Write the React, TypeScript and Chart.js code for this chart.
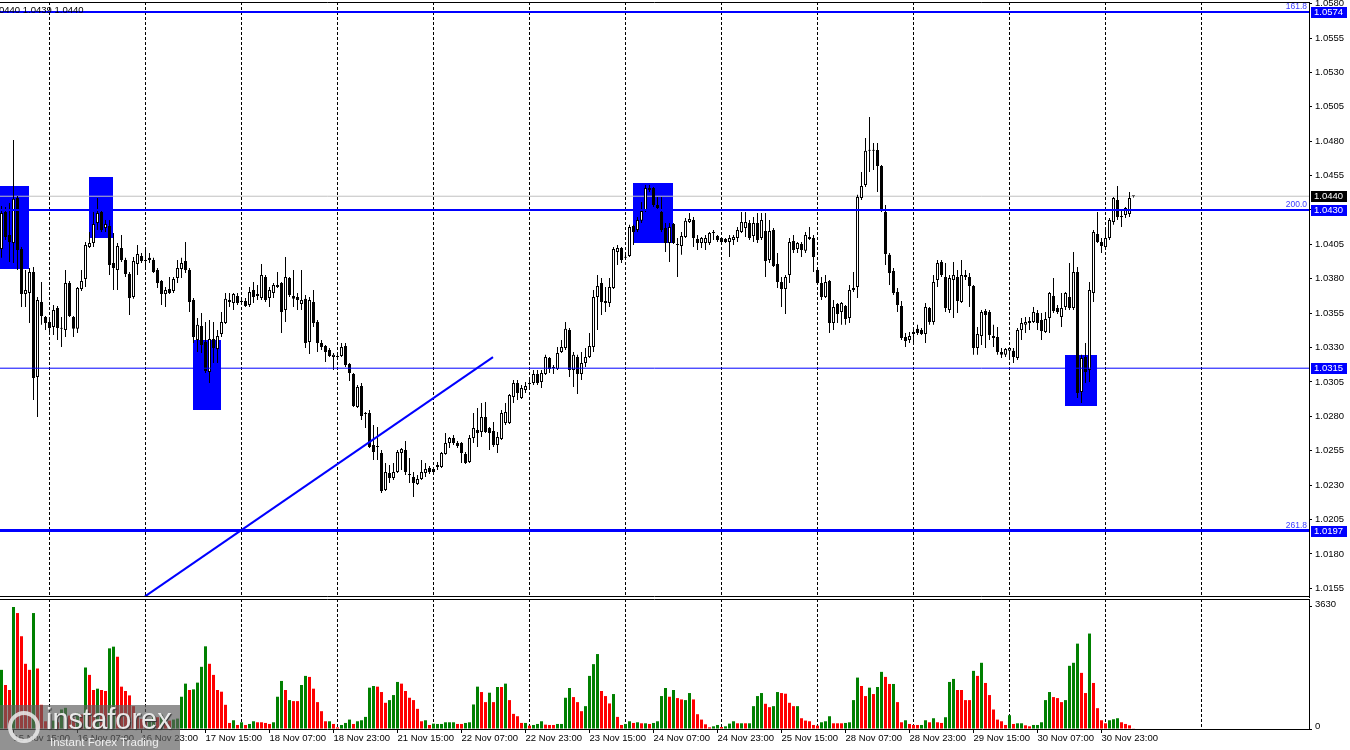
import React, { useEffect, useRef } from "react";
import { Chart, registerables } from "chart.js";

Chart.register(...registerables);

// ---------------- DATA ----------------
const opens = [
1.04017,1.04285,1.04119,1.04060,1.04388,1.04017,1.03690,1.03697,1.03849,1.03086,
1.03631,1.03522,1.03486,1.03450,1.03588,1.03443,1.03428,1.03769,1.03522,1.03436,
1.03726,1.03799,1.04031,1.04060,1.04206,1.04285,1.04170,1.04184,1.03915,1.03864,
1.04024,1.03937,1.03835,1.03668,1.03908,1.03966,1.03930,1.03952,1.03937,1.03864,
1.03784,1.03690,1.03726,1.03712,1.03806,1.03872,1.03930,1.03864,1.03646,1.03355,
1.03457,1.03340,1.03122,1.03363,1.03290,1.03399,1.03479,1.03631,1.03624,1.03675,
1.03631,1.03639,1.03610,1.03719,1.03690,1.03661,1.03813,1.03661,1.03697,1.03740,
1.03769,1.03573,1.03806,1.03675,1.03668,1.03617,1.03654,1.03340,1.03631,1.03486,
1.03333,1.03311,1.03283,1.03232,1.03232,1.03239,1.03311,1.03181,1.03108,1.02868,
1.03020,1.02824,1.02824,1.02592,1.02577,1.02534,1.02265,1.02388,1.02352,1.02395,
1.02534,1.02556,1.02381,1.02359,1.02308,1.02345,1.02388,1.02425,1.02418,1.02432,
1.02432,1.02527,1.02606,1.02643,1.02606,1.02606,1.02527,1.02468,1.02643,1.02701,
1.02686,1.02795,1.02716,1.02694,1.02592,1.02636,1.02752,1.02752,1.02941,1.03042,
1.02934,1.02992,1.03035,1.03042,1.03108,1.03049,1.03108,1.03225,1.03159,1.03145,
1.03268,1.03297,1.03428,1.03137,1.03232,1.03108,1.03188,1.03232,1.03304,1.03668,
1.03769,1.03624,1.03624,1.03733,1.03995,1.04024,1.03952,1.03966,1.04184,1.04155,
1.04221,1.04293,1.04446,1.04460,1.04337,1.04285,1.04170,1.04060,1.04199,1.04053,
1.04038,1.04104,1.04213,1.04228,1.04090,1.04060,1.04060,1.04060,1.04133,1.04111,
1.04097,1.04090,1.04067,1.04082,1.04097,1.04140,1.04170,1.04206,1.04111,1.04206,
1.04097,1.04148,1.03937,1.04155,1.03908,1.03776,1.03726,1.03828,1.04075,1.04017,
1.04053,1.04003,1.04104,1.04097,1.03864,1.03769,1.03668,1.03784,1.03479,1.03617,
1.03558,1.03602,1.03515,1.03733,1.03740,1.04388,1.04482,1.04730,1.04730,1.04737,
1.04620,1.04285,1.03974,1.03857,1.03704,1.03602,1.03377,1.03355,1.03399,1.03436,
1.03428,1.03399,1.03588,1.03486,1.03791,1.03922,1.03813,1.03573,1.03791,1.03813,
1.03631,1.03813,1.03813,1.03747,1.03297,1.03384,1.03566,1.03558,1.03384,1.03377,
1.03268,1.03247,1.03276,1.03276,1.03225,1.03428,1.03465,1.03494,1.03486,1.03551,
1.03501,1.03413,1.03515,1.03675,1.03588,1.03522,1.03595,1.03668,1.03588,1.03849,
1.02977,1.03232,1.03137,1.03697,1.04126,1.04067,1.04031,1.04097,1.04213,1.04373,
1.04256,1.04264,1.04271,1.04400
];
const highs = [
1.04329,1.04322,1.04351,1.04809,1.04402,1.04031,1.03864,1.03879,1.03886,1.03668,
1.03776,1.03529,1.03515,1.03610,1.03602,1.03522,1.03864,1.03784,1.03529,1.03740,
1.03864,1.04067,1.04140,1.04285,1.04388,1.04300,1.04228,1.04228,1.04133,1.04060,
1.04119,1.03952,1.03849,1.03959,1.04046,1.03988,1.04031,1.03988,1.03952,1.03879,
1.03791,1.03740,1.03813,1.03813,1.03937,1.03952,1.04067,1.03879,1.03661,1.03515,
1.03551,1.03486,1.03501,1.03486,1.03428,1.03558,1.03697,1.03697,1.03697,1.03697,
1.03646,1.03661,1.03740,1.03776,1.03755,1.03908,1.03828,1.03740,1.03769,1.03849,
1.03776,1.03959,1.03813,1.03864,1.03697,1.03864,1.03683,1.03668,1.03719,1.03501,
1.03355,1.03319,1.03297,1.03261,1.03247,1.03333,1.03333,1.03188,1.03115,1.03028,
1.03042,1.02831,1.02846,1.02738,1.02723,1.02556,1.02461,1.02447,1.02461,1.02556,
1.02570,1.02621,1.02498,1.02395,1.02374,1.02483,1.02461,1.02439,1.02432,1.02468,
1.02541,1.02679,1.02650,1.02665,1.02621,1.02613,1.02541,1.02665,1.02824,1.02861,
1.02897,1.02904,1.02723,1.02759,1.02686,1.02846,1.02897,1.02963,1.03064,1.03064,
1.03028,1.03049,1.03086,1.03137,1.03137,1.03137,1.03247,1.03232,1.03174,1.03304,
1.03355,1.03486,1.03443,1.03268,1.03247,1.03268,1.03297,1.03406,1.03719,1.03828,
1.03806,1.03740,1.03806,1.04031,1.04046,1.04031,1.03974,1.04192,1.04192,1.04249,
1.04358,1.04482,1.04482,1.04467,1.04395,1.04395,1.04206,1.04206,1.04206,1.04097,
1.04140,1.04242,1.04278,1.04249,1.04119,1.04104,1.04119,1.04140,1.04155,1.04119,
1.04104,1.04097,1.04119,1.04119,1.04177,1.04285,1.04285,1.04228,1.04249,1.04278,
1.04278,1.04278,1.04228,1.04170,1.03988,1.03813,1.03828,1.04097,1.04119,1.04067,
1.04067,1.04140,1.04177,1.04119,1.03872,1.03813,1.03828,1.03791,1.03646,1.03624,
1.03631,1.03610,1.03755,1.03849,1.04410,1.04576,1.04824,1.04976,1.04787,1.04787,
1.04628,1.04337,1.03988,1.03879,1.03733,1.03639,1.03406,1.03413,1.03443,1.03465,
1.03443,1.03624,1.03595,1.03828,1.03937,1.03937,1.03915,1.03828,1.03922,1.03864,
1.03937,1.03864,1.03842,1.03755,1.03450,1.03573,1.03581,1.03573,1.03465,1.03450,
1.03297,1.03297,1.03304,1.03297,1.03443,1.03515,1.03522,1.03522,1.03595,1.03573,
1.03551,1.03558,1.03704,1.03806,1.03610,1.03697,1.03704,1.03915,1.03995,1.03886,
1.03247,1.03333,1.03776,1.04155,1.04285,1.04097,1.04155,1.04242,1.04395,1.04474,
1.04307,1.04322,1.04431,1.04400
];
const lows = [
1.03952,1.04082,1.03922,1.03915,1.03864,1.03595,1.03595,1.03479,1.02919,1.02795,
1.03465,1.03428,1.03392,1.03392,1.03355,1.03304,1.03377,1.03522,1.03377,1.03406,
1.03712,1.03740,1.04024,1.04031,1.04155,1.04140,1.04140,1.03828,1.03719,1.03719,
1.03922,1.03813,1.03537,1.03654,1.03828,1.03915,1.03879,1.03915,1.03842,1.03733,
1.03610,1.03595,1.03690,1.03697,1.03769,1.03806,1.03842,1.03558,1.03333,1.03268,
1.03261,1.03115,1.03042,1.03188,1.03188,1.03377,1.03472,1.03595,1.03573,1.03610,
1.03617,1.03595,1.03595,1.03624,1.03646,1.03646,1.03631,1.03595,1.03661,1.03733,
1.03406,1.03486,1.03668,1.03595,1.03573,1.03573,1.03297,1.03254,1.03450,1.03268,
1.03283,1.03195,1.03232,1.03137,1.03210,1.03232,1.03159,1.03057,1.02868,1.02861,
1.02774,1.02716,1.02570,1.02483,1.02483,1.02243,1.02258,1.02315,1.02337,1.02388,
1.02410,1.02374,1.02315,1.02214,1.02301,1.02337,1.02359,1.02381,1.02374,1.02410,
1.02425,1.02520,1.02570,1.02592,1.02570,1.02461,1.02454,1.02461,1.02606,1.02577,
1.02650,1.02679,1.02556,1.02577,1.02534,1.02628,1.02738,1.02745,1.02897,1.02919,
1.02927,1.02970,1.02992,1.03028,1.03028,1.03006,1.03101,1.03115,1.03108,1.03137,
1.03261,1.03283,1.03086,1.03013,1.02963,1.03064,1.03159,1.03225,1.03268,1.03428,
1.03537,1.03558,1.03595,1.03726,1.03901,1.03915,1.03945,1.03959,1.04046,1.04140,
1.04206,1.04285,1.04431,1.04322,1.04307,1.04140,1.03995,1.03922,1.04053,1.03813,
1.03974,1.04097,1.04206,1.04031,1.04010,1.04024,1.04010,1.04046,1.04082,1.04067,
1.04046,1.04060,1.03959,1.04046,1.04067,1.04133,1.04104,1.04082,1.04067,1.04060,
1.04082,1.03813,1.03915,1.03886,1.03733,1.03595,1.03544,1.03769,1.03988,1.03988,
1.03959,1.03988,1.04082,1.03849,1.03762,1.03646,1.03661,1.03406,1.03428,1.03479,
1.03465,1.03465,1.03479,1.03704,1.03661,1.04373,1.04467,1.04576,1.04591,1.04431,
1.04285,1.03901,1.03755,1.03683,1.03558,1.03355,1.03304,1.03333,1.03333,1.03392,
1.03392,1.03333,1.03465,1.03465,1.03740,1.03813,1.03558,1.03551,1.03515,1.03551,
1.03624,1.03791,1.03595,1.03247,1.03247,1.03319,1.03297,1.03355,1.03304,1.03247,
1.03225,1.03232,1.03225,1.03188,1.03210,1.03355,1.03406,1.03428,1.03479,1.03428,
1.03355,1.03406,1.03406,1.03551,1.03544,1.03450,1.03573,1.03573,1.03573,1.02934,
1.02897,1.03042,1.03049,1.03631,1.04060,1.03988,1.04010,1.04082,1.04192,1.04228,
1.04177,1.04242,1.04249,1.04390
];
const closes = [
1.04278,1.04104,1.04067,1.04381,1.04010,1.03690,1.03719,1.03849,1.03079,1.03646,
1.03529,1.03479,1.03443,1.03573,1.03443,1.03436,1.03769,1.03529,1.03436,1.03733,
1.03784,1.04046,1.04060,1.04199,1.04278,1.04155,1.04199,1.03901,1.03879,1.04038,
1.03937,1.03835,1.03661,1.03930,1.03981,1.03930,1.03937,1.03937,1.03849,1.03769,
1.03690,1.03719,1.03697,1.03799,1.03879,1.03915,1.03864,1.03631,1.03377,1.03465,
1.03319,1.03130,1.03363,1.03297,1.03384,1.03486,1.03654,1.03646,1.03690,1.03624,
1.03639,1.03602,1.03704,1.03668,1.03675,1.03828,1.03646,1.03719,1.03755,1.03755,
1.03558,1.03813,1.03683,1.03654,1.03646,1.03646,1.03333,1.03646,1.03479,1.03333,
1.03304,1.03268,1.03239,1.03247,1.03239,1.03304,1.03174,1.03115,1.02875,1.03013,
1.02802,1.02817,1.02577,1.02541,1.02584,1.02258,1.02395,1.02352,1.02395,1.02541,
1.02563,1.02395,1.02374,1.02315,1.02345,1.02395,1.02418,1.02395,1.02395,1.02447,
1.02534,1.02606,1.02643,1.02606,1.02584,1.02534,1.02461,1.02643,1.02716,1.02679,
1.02795,1.02686,1.02679,1.02592,1.02650,1.02824,1.02831,1.02956,1.03042,1.02970,
1.03006,1.03020,1.03042,1.03108,1.03042,1.03115,1.03232,1.03145,1.03152,1.03261,
1.03304,1.03436,1.03137,1.03247,1.03108,1.03188,1.03232,1.03311,1.03668,1.03747,
1.03631,1.03639,1.03740,1.04017,1.04024,1.03937,1.03959,1.04177,1.04140,1.04228,
1.04293,1.04460,1.04460,1.04337,1.04315,1.04155,1.04060,1.04177,1.04060,1.04046,
1.04111,1.04221,1.04235,1.04097,1.04060,1.04097,1.04097,1.04133,1.04140,1.04082,
1.04067,1.04067,1.04097,1.04104,1.04155,1.04213,1.04213,1.04097,1.04206,1.04082,
1.04228,1.03930,1.04148,1.03893,1.03776,1.03726,1.03813,1.04067,1.04010,1.04060,
1.04010,1.04119,1.04090,1.03959,1.03769,1.03668,1.03776,1.03479,1.03595,1.03544,
1.03624,1.03508,1.03719,1.03719,1.04395,1.04474,1.04730,1.04737,1.04737,1.04620,
1.04300,1.03981,1.03842,1.03697,1.03610,1.03370,1.03348,1.03384,1.03413,1.03406,
1.03399,1.03595,1.03486,1.03776,1.03915,1.03828,1.03588,1.03806,1.03828,1.03639,
1.03828,1.03828,1.03747,1.03297,1.03399,1.03558,1.03537,1.03392,1.03370,1.03268,
1.03247,1.03290,1.03297,1.03232,1.03428,1.03479,1.03486,1.03479,1.03558,1.03479,
1.03421,1.03508,1.03697,1.03566,1.03558,1.03588,1.03697,1.03588,1.03849,1.02970,
1.03225,1.03122,1.03719,1.04140,1.04067,1.04038,1.04097,1.04228,1.04388,1.04249,
1.04249,1.04315,1.04388,1.04400
];
const volumes = [
1760,1310,1160,3630,3450,2760,1940,1760,3450,1800,
720,230,160,250,200,580,630,400,320,480,
430,1830,1610,1160,1200,1160,1130,2400,2450,2150,
1260,1130,1000,680,400,300,250,300,400,350,
420,300,250,280,310,960,1350,1160,1180,1380,
1850,2460,1940,1610,1160,1110,720,180,260,120,
200,120,150,230,200,200,180,150,200,960,
1430,1160,860,830,830,1310,1580,1550,1200,800,
530,230,230,150,50,120,180,280,150,230,
260,360,1230,1280,1260,1100,780,860,1010,1400,
1350,1130,930,860,600,230,260,120,160,150,
150,200,200,200,150,150,180,200,730,1260,
1100,800,1080,800,1250,1250,1350,860,450,380,
180,180,100,120,150,230,130,120,120,150,
150,930,1220,950,800,530,680,1580,1930,2230,
1130,980,760,1040,360,120,150,230,180,200,
170,170,150,180,230,980,1220,960,1160,920,
880,860,1070,880,440,280,140,50,80,120,
60,80,160,230,170,170,170,170,680,980,
1070,750,650,680,1100,1070,1050,780,680,680,
320,250,230,120,100,200,230,380,170,170,
170,180,200,860,1530,1280,980,1230,1040,1250,
1700,1550,1340,1340,800,200,260,150,120,120,
120,260,200,320,200,180,350,1400,1490,1160,
1160,860,860,1730,1580,1970,1370,1010,580,280,
230,120,410,150,170,170,110,80,120,120,
200,860,1100,950,920,800,860,1880,1970,2540,
1670,1070,2840,1370,620,260,170,260,290,320,
200,150,110,10
];
const volumeRising = [
1,0,0,1,0,0,0,0,1,0,
0,0,0,1,0,1,1,0,0,1,
0,1,0,0,1,0,0,1,1,0,
0,0,0,0,0,0,0,1,1,0,
1,0,0,1,1,1,1,0,1,1,
1,1,0,0,0,0,0,0,1,0,
1,0,1,1,0,0,0,0,1,1,
1,0,1,0,0,1,1,0,0,0,
0,0,1,0,0,1,1,1,0,1,
1,1,1,1,0,0,0,1,1,1,
0,0,0,0,0,0,1,0,1,1,
1,1,1,1,0,0,1,1,1,1,
0,0,1,0,1,0,1,0,0,0,
0,1,0,1,1,1,0,0,0,1,
1,1,1,0,0,0,1,1,1,1,
0,0,0,1,0,0,1,1,0,1,
0,1,0,1,1,1,1,0,1,0,
0,1,1,0,0,0,0,0,1,1,
0,1,1,1,0,1,0,1,1,1,
1,0,0,1,1,0,0,0,0,1,
0,0,0,0,0,1,1,1,0,0,
0,1,1,1,1,0,0,1,0,1,
1,0,0,1,0,0,1,0,0,0,
1,1,0,1,0,0,1,1,1,0,
0,0,0,1,0,1,0,0,0,0,
0,0,1,0,1,1,0,0,1,1,
1,1,1,0,0,0,1,1,1,1,
0,0,1,0,0,0,0,1,1,1,
0,0,0,0
];
const timeLabels = [
  "15 Nov 15:00", "16 Nov 07:00", "16 Nov 23:00", "17 Nov 15:00", "18 Nov 07:00",
  "18 Nov 23:00", "21 Nov 15:00", "22 Nov 07:00", "22 Nov 23:00", "23 Nov 15:00",
  "24 Nov 07:00", "24 Nov 23:00", "25 Nov 15:00", "28 Nov 07:00", "28 Nov 23:00",
  "29 Nov 15:00", "30 Nov 07:00", "30 Nov 23:00"
];
const labelIndices = [3, 19, 35, 51, 67, 83, 99, 115, 131, 147, 163, 179, 195, 211, 227, 243, 259, 275];
const dayStartIndices = [12, 36, 60, 84, 108, 132, 156, 180, 204, 228, 252, 276, 300];
const priceTicks = [
  1.058, 1.0555, 1.053, 1.0505, 1.048, 1.0455, 1.043, 1.0405, 1.038,
  1.0355, 1.033, 1.0305, 1.028, 1.0255, 1.023, 1.0205, 1.018, 1.0155
];
const volumeTicks = [0, 3630];
const levelPrices = [1.0574, 1.043, 1.0315, 1.0197];
const levelTags = ["161.8", "200.0", "", "261.8"];
const currentPrice = 1.044;
const zoneStart = [-0.375, 21.875, 47.875, 157.875, 265.875];
const zoneEnd = [6.875, 27.875, 54.875, 167.875, 273.875];
const zoneHigh = [1.04475, 1.0454, 1.03357, 1.04497, 1.03248];
const zoneLow = [1.03872, 1.04097, 1.02849, 1.04061, 1.02878];
const trendIndex = [35.875, 122.875];
const trendPrice = [1.01491, 1.0323];
const headerText = "0440 1.0439 1.0440";

// ---------------- LAYOUT / STYLE ----------------
const X_MIN = -0.375;
const X_MAX = 326.875;
const Y_MAX = 1.05812;
const Y_MIN = 1.014868;
const VOL_MAX = 3868;
const FONT = "'Liberation Sans', Arial, sans-serif";
const BLUE = "#0000ff";
const levelWidths = [2, 2, 1, 3];
const AXIS_W = 41;

const fixY = (axis: any) => {
  axis.width = AXIS_W;
  axis.paddingTop = 0;
  axis.paddingBottom = 0;
};

function MainChart() {
  const ref = useRef<HTMLCanvasElement>(null);
  useEffect(() => {
    const idx = closes.map((_, i) => i);
    const datasets: any[] = [];
    datasets.push({
      type: "line",
      data: [{ x: X_MIN, y: currentPrice }, { x: X_MAX, y: currentPrice }],
      borderColor: "#c0c0c0", borderWidth: 1, pointRadius: 0, order: 6,
    });
    datasets.push({
      type: "bar",
      data: idx.map((i) => ({ x: i, y: [lows[i], highs[i]] })),
      backgroundColor: "#000", borderWidth: 0, barThickness: 1,
      grouped: false, inflateAmount: 0, minBarLength: 1, order: 5,
    });
    datasets.push({
      type: "bar",
      data: idx.map((i) => ({ x: i, y: [opens[i], closes[i]] })),
      backgroundColor: idx.map((i) => (closes[i] > opens[i] ? "#ffffff" : "#000000")),
      borderColor: "#000", borderWidth: 1, borderSkipped: false, barThickness: 3,
      grouped: false, inflateAmount: 0, minBarLength: 1, order: 4,
    });
    levelPrices.forEach((p, k) =>
      datasets.push({
        type: "line",
        data: [{ x: X_MIN, y: p }, { x: X_MAX, y: p }],
        borderColor: BLUE, borderWidth: levelWidths[k], pointRadius: 0, order: 1,
      })
    );
    datasets.push({
      type: "line",
      data: trendIndex.map((x, k) => ({ x, y: trendPrice[k] })),
      borderColor: BLUE, borderWidth: 2, pointRadius: 0, order: 1,
    });

    const overlay = {
      id: "mainOverlay",
      beforeDatasetsDraw(chart: any) {
        const { ctx, chartArea, scales } = chart;
        const x = scales.x, y = scales.y;
        ctx.save();
        ctx.beginPath();
        ctx.rect(chartArea.left, chartArea.top, chartArea.right - chartArea.left, chartArea.bottom - chartArea.top);
        ctx.clip();
        ctx.fillStyle = BLUE;
        zoneStart.forEach((s, k) => {
          const x0 = Math.round(x.getPixelForValue(s));
          const x1 = Math.round(x.getPixelForValue(zoneEnd[k]));
          const y0 = Math.round(y.getPixelForValue(zoneHigh[k]));
          const y1 = Math.round(y.getPixelForValue(zoneLow[k]));
          ctx.fillRect(x0, y0, x1 - x0, y1 - y0);
        });
        ctx.restore();
      },
      afterDraw(chart: any) {
        const { ctx, chartArea, scales } = chart;
        const y = scales.y;
        ctx.save();
        ctx.strokeStyle = "#000";
        ctx.lineWidth = 1;
        ctx.beginPath();
        ctx.moveTo(0, chartArea.top + 0.5);
        ctx.lineTo(chartArea.right, chartArea.top + 0.5);
        ctx.moveTo(0, chartArea.bottom - 0.5);
        ctx.lineTo(chartArea.right, chartArea.bottom - 0.5);
        ctx.stroke();
        ctx.font = `8.5px ${FONT}`;
        ctx.fillStyle = "#3c3cff";
        ctx.textAlign = "right";
        ctx.textBaseline = "alphabetic";
        levelPrices.forEach((p, k) => {
          if (!levelTags[k]) return;
          ctx.fillText(levelTags[k], chartArea.right - 2, y.getPixelForValue(p) - 2.5);
        });
        const boxes = levelPrices.map((p) => ({ p, bg: BLUE }));
        boxes.push({ p: currentPrice, bg: "#000" });
        ctx.font = `9.5px ${FONT}`;
        ctx.textAlign = "left";
        ctx.textBaseline = "middle";
        boxes.forEach((b) => {
          const py = Math.round(y.getPixelForValue(b.p));
          ctx.fillStyle = b.bg;
          ctx.fillRect(chartArea.right + 2, py - 5, 36, 11);
          ctx.fillStyle = "#fff";
          ctx.fillText(b.p.toFixed(4), chartArea.right + 5, py + 0.5);
        });
        ctx.restore();
      },
    };

    const chart = new Chart(ref.current as HTMLCanvasElement, {
      type: "bar",
      data: { datasets },
      plugins: [overlay],
      options: {
        animation: false,
        responsive: false,
        events: [],
        layout: { padding: { top: 2, bottom: 3, left: 0, right: 0 } },
        plugins: { legend: { display: false }, tooltip: { enabled: false } },
        scales: {
          x: {
            type: "linear", min: X_MIN, max: X_MAX, offset: false,
            afterBuildTicks: (axis: any) => { axis.ticks = dayStartIndices.map((v) => ({ value: v })); },
            afterFit: (axis: any) => { axis.height = 0; axis.paddingLeft = 0; axis.paddingRight = 0; },
            ticks: { display: false },
            grid: { offset: false, color: "#000", lineWidth: 1, drawTicks: false, drawOnChartArea: true },
            border: { display: false, dash: [3, 2] },
          },
          y: {
            type: "linear", position: "right", min: Y_MIN, max: Y_MAX,
            afterBuildTicks: (axis: any) => { axis.ticks = priceTicks.map((v) => ({ value: v })); },
            afterFit: fixY,
            ticks: {
              autoSkip: false, color: "#000", padding: 3,
              font: { family: FONT, size: 9.5 },
              callback: (v: any) => Number(v).toFixed(4),
            },
            grid: { drawOnChartArea: false, drawTicks: true, tickLength: 3, color: "#000" },
            border: { display: true, color: "#000", width: 1 },
          },
        },
      } as any,
    });
    return () => chart.destroy();
  }, []);
  return <canvas ref={ref} width={1350} height={600} style={{ position: "absolute", left: 0, top: 0 }} />;
}

function VolumeChart() {
  const ref = useRef<HTMLCanvasElement>(null);
  useEffect(() => {
    const idx = volumes.map((_, i) => i);
    const frame = {
      id: "volFrame",
      afterDraw(chart: any) {
        const { ctx, chartArea } = chart;
        ctx.save();
        ctx.strokeStyle = "#000";
        ctx.lineWidth = 1;
        ctx.beginPath();
        ctx.moveTo(0, chartArea.top + 0.5);
        ctx.lineTo(chartArea.right, chartArea.top + 0.5);
        ctx.moveTo(0, chartArea.bottom + 0.5);
        ctx.lineTo(chartArea.right + 1, chartArea.bottom + 0.5);
        ctx.stroke();
        ctx.restore();
      },
    };
    const chart = new Chart(ref.current as HTMLCanvasElement, {
      type: "bar",
      data: {
        datasets: [
          {
            data: idx.map((i) => ({ x: i, y: volumes[i] })),
            backgroundColor: idx.map((i) => (volumeRising[i] ? "#008000" : "#ff0000")),
            borderWidth: 0, barThickness: 3, grouped: false, inflateAmount: 0, xAxisID: "x",
          },
        ],
      },
      plugins: [frame],
      options: {
        animation: false,
        responsive: false,
        events: [],
        layout: { padding: 0 },
        plugins: { legend: { display: false }, tooltip: { enabled: false } },
        scales: {
          x: {
            type: "linear", min: X_MIN, max: X_MAX, offset: false, position: "bottom",
            afterBuildTicks: (axis: any) => { axis.ticks = labelIndices.map((v) => ({ value: v })); },
            afterFit: (axis: any) => { axis.height = 21; axis.paddingLeft = 0; axis.paddingRight = 0; },
            ticks: {
              autoSkip: false, maxRotation: 0, minRotation: 0, align: "start", color: "#000", padding: 0,
              font: { family: FONT, size: 9.5 },
              callback: (_v: any, i: number) => timeLabels[i],
            },
            grid: { offset: false, drawOnChartArea: false, drawTicks: true, tickLength: 4, color: "#000" },
            border: { display: false },
          },
          xg: {
            type: "linear", min: X_MIN, max: X_MAX, offset: false, position: "bottom",
            afterBuildTicks: (axis: any) => { axis.ticks = dayStartIndices.map((v) => ({ value: v })); },
            afterFit: (axis: any) => { axis.height = 0; axis.paddingLeft = 0; axis.paddingRight = 0; },
            ticks: { display: false },
            grid: { offset: false, color: "#000", lineWidth: 1, drawTicks: false, drawOnChartArea: true },
            border: { display: false, dash: [3, 2] },
          },
          y: {
            type: "linear", position: "right", min: 0, max: VOL_MAX,
            afterBuildTicks: (axis: any) => { axis.ticks = volumeTicks.map((v) => ({ value: v })); },
            afterFit: fixY,
            ticks: {
              autoSkip: false, color: "#000", padding: 3, labelOffset: -3,
              font: { family: FONT, size: 9.5 },
              callback: (v: any) => String(v),
            },
            grid: { drawOnChartArea: false, drawTicks: true, tickLength: 3, color: "#000" },
            border: { display: true, color: "#000", width: 1 },
          },
        },
      } as any,
    });
    return () => chart.destroy();
  }, []);
  return <canvas ref={ref} width={1350} height={151} style={{ position: "absolute", left: 0, top: 599 }} />;
}

function Watermark() {
  return (
    <div style={{ position: "absolute", left: 0, top: 705, width: 180, height: 45, background: "rgba(95,95,95,0.68)", overflow: "hidden" }}>
      <div style={{ position: "absolute", left: 8, top: 6, width: 24, height: 24, borderRadius: "50%", border: "4px solid rgba(235,235,235,0.85)" }} />
      <div style={{ position: "absolute", left: 46, top: -3, font: `29px ${FONT}`, lineHeight: "34px", color: "rgba(250,250,250,0.9)", textShadow: "1px 1px 1px #333", whiteSpace: "nowrap" }}>
        instaforex
      </div>
      <div style={{ position: "absolute", left: 50, top: 31, font: `11.5px ${FONT}`, lineHeight: "13px", color: "rgba(250,250,250,0.9)", whiteSpace: "nowrap" }}>
        Instant Forex Trading
      </div>
    </div>
  );
}

export default function App() {
  return (
    <div style={{ position: "fixed", left: 0, top: 0, width: 1350, height: 750, background: "#fff", overflow: "hidden" }}>
      <MainChart />
      <VolumeChart />
      <div style={{ position: "absolute", left: -1, top: 4, font: `9.5px ${FONT}`, lineHeight: "11px", color: "#000", whiteSpace: "nowrap" }}>
        {headerText}
      </div>
      <Watermark />
    </div>
  );
}
